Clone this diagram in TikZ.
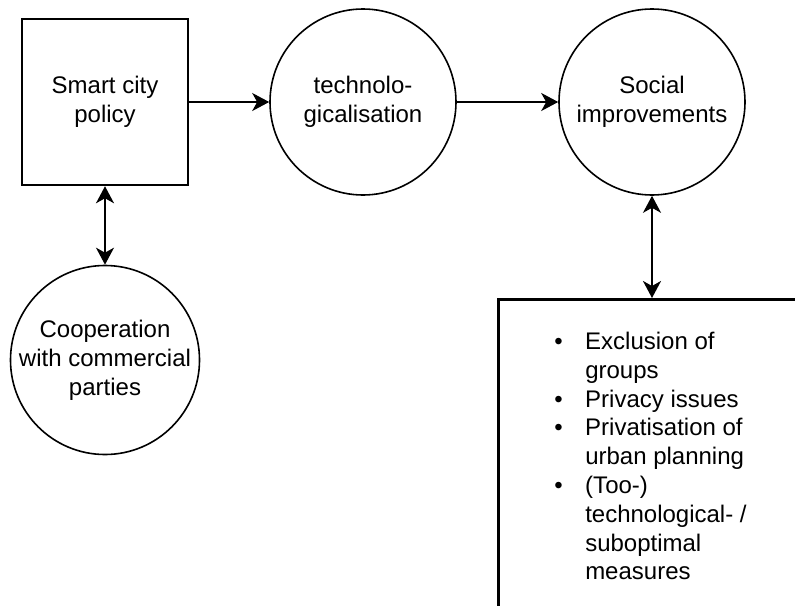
\documentclass[tikz,border=0pt]{standalone}
\usepackage{fontspec}
\setsansfont{Liberation Sans}
\usetikzlibrary{arrows.meta}

\begin{document}
\begin{tikzpicture}[
   x=1pt,y=-1pt,
   font=\sffamily\fontsize{24}{28.8}\selectfont,
   block/.style={draw,line width=2.5pt,minimum size=166pt,inner sep=0pt,align=center},
   bubble/.style={draw,circle,line width=1.6pt,minimum size=186pt,inner sep=0pt,align=center},
   listbox/.style={draw,line width=2.5pt,anchor=north west,align=left,inner xsep=56pt,inner ysep=30pt},
   to/.style={-{Stealth[length=17pt,width=18pt,inset=5pt]},line width=2pt},
   fromto/.style={{Stealth[length=17pt,width=18pt,inset=5pt]}-{Stealth[length=17pt,width=18pt,inset=5pt]},line width=2pt}]
\useasboundingbox (0,0) rectangle (795,605);
\clip (0,0) rectangle (795,605);
\node[block] (policy) at (105,102) {Smart city\\policy};
\node[bubble] (tech) at (363,102) {technolo-\\gicalisation};
\node[bubble] (social) at (652,102) {Social\\improvements};
\node[bubble] (coop) at (105,360) {Cooperation\\with commercial\\parties};
\node[listbox] (effects) at (497,298) {\begin{tabular}{@{}p{31pt}@{}l@{}}
\textbullet & Exclusion of\\
 & groups\\
\textbullet & Privacy issues\\
\textbullet & Privatisation of\\
 & urban planning\\
\textbullet & (Too-)\\
 & technological- /\\
 & suboptimal\\
 & measures
\end{tabular}};
\coordinate (effects top) at (652,298);
\draw[to] (policy) -- (tech);
\draw[to] (tech) -- (social);
\draw[fromto] (policy) -- (coop);
\draw[fromto] (social) -- (effects top);
\end{tikzpicture}
\end{document}
